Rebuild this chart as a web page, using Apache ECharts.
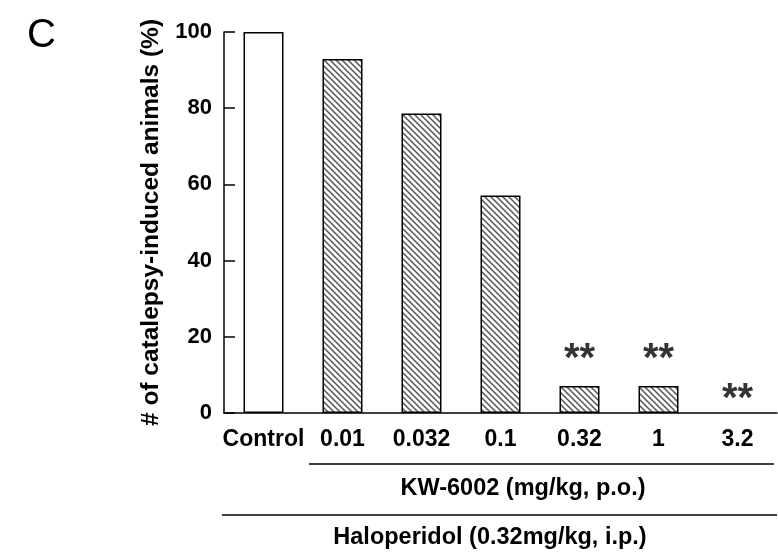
<!DOCTYPE html>
<html>
<head>
<meta charset="utf-8">
<script src="https://cdn.jsdelivr.net/npm/echarts@6/dist/echarts.min.js"></script>
<style>
html,body{margin:0;padding:0;background:#fff}
#main{width:778px;height:558px}
</style>
</head>
<body>
<div id="main"></div>
<script>
// doses of KW-6002, control first
var categories = ['Control', '0.01', '0.032', '0.1', '0.32', '1', '3.2'];
// % of animals with catalepsy
var values = [100, 92.9, 78.6, 57.1, 7.1, 7.1, 0];
// significance marks and where they sit (in % units)
var sigMarks = ['', '', '', '', '**', '**', '**'];
var sigY = [null, null, null, null, 14, 14, 3.5];

var FONT = "'Liberation Sans', Arial, Helvetica, sans-serif";

function hatch() {
	var c = document.createElement('canvas');
	c.width = 6; c.height = 6;
	var g = c.getContext('2d');
	g.fillStyle = '#fff';
	g.fillRect(0, 0, 6, 6);
	g.strokeStyle = '#555';
	g.lineWidth = 1.5;
	g.beginPath();
	g.moveTo(-1, -1); g.lineTo(7, 7);
	g.moveTo(-1, 5); g.lineTo(1, 7);
	g.moveTo(5, -1); g.lineTo(7, 1);
	g.stroke();
	return c;
}
var hatchFill = { image: hatch(), repeat: 'repeat' };

var barData = [];
for (var i = 0; i < values.length; i++) {
	barData.push({
		value: values[i],
		itemStyle: {
			color: i == 0 ? '#fff' : hatchFill,
			borderWidth: values[i] > 0 ? 1.5 : 0
		}
	});
}
var starData = [];
for (var i = 0; i < sigMarks.length; i++) {
	if (sigMarks[i]) starData.push({ value: [i, sigY[i]], mark: sigMarks[i] });
}

var myChart = echarts.init(document.getElementById('main'));
var option = {
	animation: false,
	backgroundColor: '#fff',
	grid: { left: 224, right: 1, top: 32, bottom: 145 },
	xAxis: {
		type: 'category',
		data: categories,
		axisLine: { lineStyle: { color: '#000', width: 1.5 } },
		axisTick: { show: false },
		axisLabel: {
			interval: 0, margin: 15, color: '#000',
			fontSize: 23, fontWeight: 'bold', fontFamily: FONT
		}
	},
	yAxis: {
		type: 'value',
		min: 0, max: 100, interval: 20,
		name: '# of catalepsy-induced animals (%)',
		nameLocation: 'middle',
		nameGap: 60,
		nameTextStyle: { color: '#000', fontSize: 24.5, fontWeight: 'bold', fontFamily: FONT },
		axisLine: { show: true, lineStyle: { color: '#000', width: 1.5 } },
		axisTick: { show: true, inside: true, length: 11, lineStyle: { color: '#000', width: 1.5 } },
		splitLine: { show: false },
		axisLabel: {
			margin: 12, color: '#000',
			fontSize: 22, fontWeight: 'bold', fontFamily: FONT
		}
	},
	series: [{
		type: 'bar',
		data: barData,
		barWidth: 40,
		itemStyle: { borderColor: '#000', borderWidth: 1.5 }
	}, {
		type: 'scatter',
		data: starData,
		symbolSize: 0,
		label: {
			show: true, position: 'inside',
			formatter: function (p) { return p.data.mark; },
			color: '#000', fontSize: 40, fontWeight: 'bold', fontFamily: FONT
		},
		z: 5
	}],
	graphic: [
		{ type: 'text', left: 27, top: 16,
		  style: { text: 'C', fontSize: 40, fontFamily: FONT, fill: '#000' } },
		{ type: 'line', shape: { x1: 309, y1: 464, x2: 774, y2: 464 },
		  style: { stroke: '#000', lineWidth: 1.5 } },
		{ type: 'text', x: 523, y: 489,
		  style: { text: 'KW-6002 (mg/kg, p.o.)', align: 'center', verticalAlign: 'middle',
		           fontSize: 23.5, fontWeight: 'bold', fontFamily: FONT, fill: '#000' } },
		{ type: 'line', shape: { x1: 222, y1: 515, x2: 777, y2: 515 },
		  style: { stroke: '#000', lineWidth: 1.5 } },
		{ type: 'text', x: 490, y: 538,
		  style: { text: 'Haloperidol (0.32mg/kg, i.p.)', align: 'center', verticalAlign: 'middle',
		           fontSize: 23.5, fontWeight: 'bold', fontFamily: FONT, fill: '#000' } }
	]
};
myChart.setOption(option);
</script>
</body>
</html>
